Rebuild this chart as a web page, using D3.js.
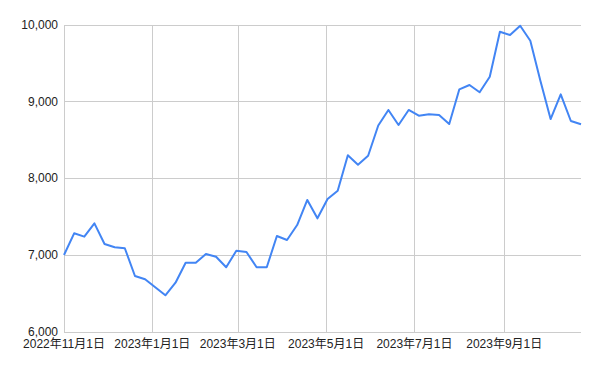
<!DOCTYPE html>
<html>
<head>
  <meta charset="utf-8">
  <script src="https://d3js.org/d3.v7.min.js"></script>
  <style>
    body { margin: 0; background: #fff; }
    text { font-family: "Liberation Sans", Arial, "Noto Sans CJK JP", sans-serif; font-size: 12px; fill: #222; }
  </style>
</head>
<body>
<script>
// weekly values starting 2022-11-01
var startDate = new Date(2022, 10, 1);
var values = [
  7003, 7286, 7242, 7416, 7147, 7104, 7091, 6730, 6687, 6583,
  6478, 6642, 6903, 6903, 7016, 6981, 6843, 7059, 7042, 6843,
  6843, 7251, 7199, 7394, 7720, 7481, 7733, 7841, 8302, 8180,
  8297, 8690, 8893, 8697, 8893, 8818, 8836, 8827, 8710, 9162,
  9218, 9123, 9326, 9913, 9870, 9991, 9795, 9270, 8775, 9097,
  8749, 8706
];
var yTicks = [6000, 7000, 8000, 9000, 10000];

var data = values.map(function(v, i) {
  return { date: d3.timeDay.offset(startDate, i * 7), value: v };
});

var width = 600, height = 371;
var margin = { top: 25, right: 19, bottom: 39, left: 64 };

var svg = d3.select("body").append("svg")
  .attr("width", width)
  .attr("height", height);

var x = d3.scaleTime()
  .domain(d3.extent(data, function(d) { return d.date; }))
  .range([margin.left, width - margin.right]);

var y = d3.scaleLinear()
  .domain([6000, 10000])
  .range([height - margin.bottom, margin.top]);

var xTicks = x.ticks(d3.timeMonth.every(2));

// gridlines
svg.append("g").selectAll("line.h")
  .data(yTicks)
  .enter().append("line")
  .attr("x1", margin.left).attr("x2", width - margin.right)
  .attr("y1", function(d) { return y(d); })
  .attr("y2", function(d) { return y(d); })
  .attr("stroke", "#cccccc").attr("stroke-width", 1)
  .attr("shape-rendering", "crispEdges");

svg.append("g").selectAll("line.v")
  .data(xTicks)
  .enter().append("line")
  .attr("x1", function(d) { return Math.round(x(d)) + 0.5; })
  .attr("x2", function(d) { return Math.round(x(d)) + 0.5; })
  .attr("y1", margin.top).attr("y2", height - margin.bottom)
  .attr("stroke", "#cccccc").attr("stroke-width", 1);

// y labels
svg.append("g").selectAll("text")
  .data(yTicks)
  .enter().append("text")
  .attr("x", margin.left - 6)
  .attr("y", function(d) { return y(d); })
  .attr("dy", "0.32em")
  .attr("text-anchor", "end")
  .text(function(d) { return d3.format(",")(d); });

// x labels
svg.append("g").selectAll("text")
  .data(xTicks)
  .enter().append("text")
  .attr("x", function(d) { return x(d); })
  .attr("y", height - margin.bottom + 16)
  .attr("text-anchor", "middle")
  .text(function(d) {
    return d.getFullYear() + "年" + (d.getMonth() + 1) + "月" + d.getDate() + "日";
  });

var line = d3.line()
  .x(function(d) { return x(d.date); })
  .y(function(d) { return y(d.value); });

svg.append("path")
  .datum(data)
  .attr("d", line)
  .attr("fill", "none")
  .attr("stroke", "#4285f4")
  .attr("stroke-width", 2)
  .attr("stroke-linejoin", "round");
</script>
</body>
</html>
